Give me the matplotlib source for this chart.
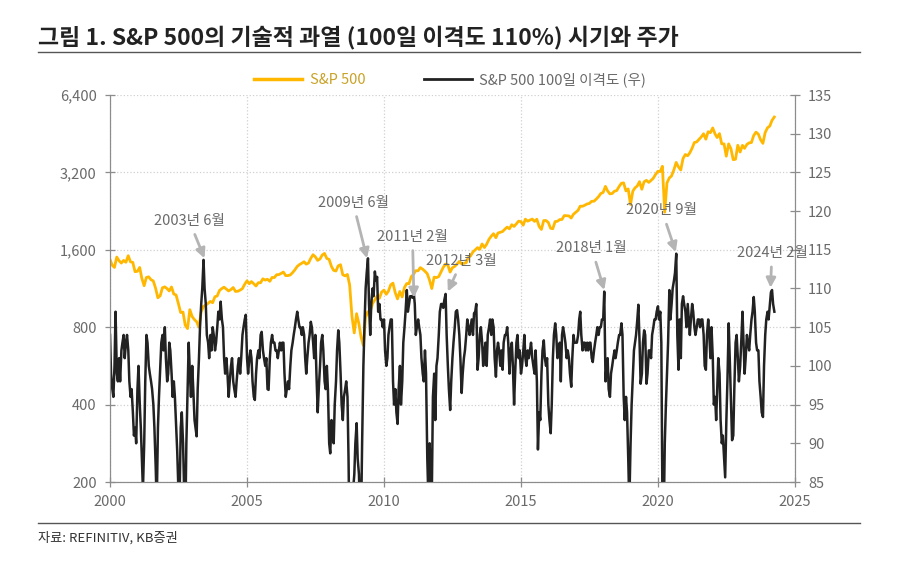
import numpy as np
import pandas as pd
import matplotlib
matplotlib.use('Agg')
import matplotlib.pyplot as plt
from matplotlib.lines import Line2D
from matplotlib.ticker import NullLocator

plt.rcParams['font.family'] = ['Noto Sans CJK KR', 'DejaVu Sans']

# S&P 500 월말 (1999년 12월 ~ 2024년 3월)
spx_2000s = [1469,
    1394, 1366, 1499, 1452, 1421, 1455, 1431, 1518, 1437, 1429, 1315, 1320,
    1366, 1240, 1160, 1249, 1256, 1224, 1211, 1134, 1041, 1060, 1139, 1148,
    1130, 1107, 1147, 1077, 1067, 990, 912, 916, 815, 790, 936, 880,
    856, 841, 800, 917, 964, 975, 990, 1008, 996, 1051, 1058, 1112,
    1131, 1145, 1126, 1107, 1121, 1141, 1102, 1104, 1115, 1130, 1174, 1212,
    1181, 1204, 1181, 1157, 1192, 1191, 1234, 1220, 1229, 1207, 1249, 1248,
    1280, 1281, 1295, 1311, 1270, 1270, 1277, 1304, 1336, 1378, 1401, 1418,
    1438, 1407, 1421, 1482, 1531, 1503, 1455, 1474, 1527, 1549, 1481, 1468,
    1379, 1331, 1323, 1386, 1400, 1280, 1267, 1283, 1166, 880, 760, 903,
    826, 735, 680, 873, 919, 919, 987, 1021, 1057, 1036, 1096, 1115]
spx_2010s = [
    1074, 1104, 1169, 1187, 1089, 1031, 1102, 1049, 1141, 1183, 1181, 1258,
    1286, 1327, 1326, 1364, 1345, 1321, 1292, 1219, 1131, 1253, 1247, 1258,
    1312, 1366, 1408, 1398, 1310, 1362, 1379, 1407, 1441, 1412, 1416, 1426,
    1498, 1515, 1569, 1598, 1631, 1606, 1686, 1633, 1682, 1757, 1806, 1848,
    1783, 1859, 1872, 1884, 1924, 1960, 1931, 2003, 1972, 2018, 2068, 2059,
    1995, 2105, 2068, 2086, 2107, 2063, 2104, 1972, 1920, 2079, 2080, 2044,
    1940, 1932, 2060, 2065, 2097, 2099, 2174, 2171, 2168, 2126, 2199, 2239,
    2279, 2364, 2363, 2384, 2412, 2423, 2470, 2472, 2519, 2575, 2648, 2674,
    2824, 2714, 2641, 2648, 2705, 2718, 2816, 2902, 2914, 2712, 2760, 2400,
    2704, 2784, 2834, 2946, 2752, 2942, 2980, 2926, 2977, 3038, 3141, 3231]
spx_2020s = [
    3226, 3380, 2240, 2912, 3044, 3100, 3271, 3500, 3363, 3270, 3622, 3756,
    3714, 3811, 3973, 4181, 4204, 4298, 4395, 4523, 4308, 4605, 4567, 4766,
    4516, 4374, 4530, 4132, 4132, 3700, 4130, 3955, 3586, 3600, 4080, 3840,
    4077, 3970, 4109, 4169, 4180, 4450, 4589, 4508, 4288, 4150, 4568, 4770,
    4846, 5096, 5254]

# 100일 이격도 (매월 1일, 15일)
disp_2000s = [
    104, 99, 97, 96, 100, 107, 99, 98, 101, 98, 102, 103, 104, 101, 103, 104, 102, 98, 96, 97, 94, 91, 92, 90,
    97, 100, 95, 92, 88, 84, 90, 98, 104, 103, 100, 99, 98, 97, 95, 92, 87, 82, 92, 96, 100, 103, 104, 102,
    105, 101, 98, 99, 103, 102, 99, 96, 98, 96, 92, 89, 84, 82, 92, 94, 90, 84, 80, 90, 97, 103, 99, 96,
    100, 97, 93, 92, 90.9, 97, 101, 105, 108, 110, 113.7, 110, 108, 104, 103, 101, 104, 102, 105, 104, 102, 103, 105, 107,
    106, 108.3, 106, 105, 101, 99, 101, 99, 96, 98, 100, 101, 98, 97, 96, 98, 100, 101, 99, 101, 104, 105, 106, 106.6,
    101, 99, 101, 102, 101, 98, 96, 95.6, 99, 101, 102, 101, 104, 104.4, 102, 101, 100, 101, 97, 96.9, 101, 103, 104, 103,
    103, 102, 102, 101, 102, 103, 102, 103, 103, 99, 96, 97, 98, 97, 100, 102, 103, 104, 105, 106, 107, 106, 105, 105,
    104, 105, 104, 101, 99, 101, 103, 104, 105.7, 105, 103, 101, 104, 99, 94, 97, 100, 103, 104, 102, 98, 97, 100, 97,
    90, 88.7, 93, 92, 90, 95, 98, 102, 104.6, 103, 99, 95, 93, 96, 97, 98, 96, 88, 75, 78, 80, 84, 86, 90,
    92.6, 88, 86, 80, 80, 90, 100, 105, 110, 112, 113.9, 108, 104, 108, 110, 109, 112.2, 111, 111.5, 107, 108, 106, 106, 105]
disp_2010s = [
    106, 102, 100, 101, 104, 105, 106, 106, 98, 95, 97, 94, 92.5, 97, 100, 95, 98, 103, 105, 107, 109.8, 107, 108, 109,
    109, 108.8, 109.5, 108, 104, 105, 106, 105, 104, 101, 99, 98, 102, 99, 88, 83, 90, 86, 84, 96, 99, 93, 100, 101,
    104, 107, 108, 108, 107.5, 108.5, 109.3, 104, 100, 97, 94.3, 98, 101, 103, 105, 107, 107.2, 106, 104, 101, 96.5, 99, 101, 102,
    104, 106, 105, 104, 105, 106, 104, 106.8, 107, 108, 99.5, 101, 104, 105, 103, 100, 102, 103, 100, 104, 105, 106, 104, 106,
    105, 101, 98.6, 102, 103, 102, 100, 102, 99.5, 103, 104, 104, 105, 103, 99, 102, 103, 100, 95, 99, 103, 104, 101, 102,
    99, 100, 102, 104, 101, 100, 102, 101, 102, 103, 101, 100, 99, 102, 98, 89.2, 94, 93, 99, 102, 103.3, 101, 100, 101,
    95, 93, 91.3, 95, 101, 104, 105.5, 104, 101, 102, 103, 98, 104, 105, 104, 103, 101, 102, 101, 99, 97.3, 101, 104, 103,
    103, 103, 104, 106, 107, 104, 102, 103, 103, 102, 103, 102, 103, 103, 101, 100.5, 102, 103, 104, 105, 104, 105, 105, 106,
    106, 109.6, 98, 100, 101, 97, 96, 99, 100, 101, 102, 101, 102, 103, 104, 104, 105.5, 104, 96, 93, 96, 94, 88, 82,
    90, 95, 99, 102, 103, 104, 106, 107.9, 103, 97.7, 99, 103, 104.6, 104, 97.7, 99, 102, 102, 101, 104, 105, 106, 106, 107]
disp_2020s = [
    107.7, 106, 107, 103, 82, 78, 90, 94.7, 99, 103, 109.8, 106, 108, 110, 111, 112, 114.5, 104, 99.5, 106, 101, 108, 109, 108,
    107, 105, 108, 106, 104, 106, 108, 107, 105, 104, 105, 106, 106, 105, 106, 106, 104, 100, 99.5, 104, 106, 104, 101, 105,
    101, 95, 96, 93, 97, 101, 99, 93, 90, 91, 88, 85.6, 93, 98, 105.5, 101, 95, 90.4, 91, 97, 103, 104, 101, 98,
    100, 103, 107, 103, 99, 101, 104, 103, 102, 104, 106, 107, 108.9, 107, 103, 102, 102, 98, 96, 94, 93.4, 100, 104, 106,
    107, 106, 108, 109.5, 109.8, 108, 107]

left_ticks = [200, 400, 800, 1600, 3200, 6400]
right_ticks = [85, 90, 95, 100, 105, 110, 115, 120, 125, 130, 135]
year_ticks = [2000, 2005, 2010, 2015, 2020, 2025]

# 화살표 표시
peak_labels = ['2003년 6월', '2009년 6월', '2011년 2월', '2012년 3월', '2018년 1월', '2020년 9월', '2024년 2월']
peak_dates = ['2003-06-14', '2009-05-19', '2011-02-03', '2012-05-01', '2018-01-15', '2020-08-26', '2024-02-10']
peak_values = [113.9, 113.9, 108.8, 109.6, 109.8, 114.7, 110.1]
label_offsets = [(-11, 27), (-10, 40), (-1, 44), (10, 22), (-9, 30), (-10, 30), (1, 25)]

spx = spx_2000s + spx_2010s + spx_2020s
spx_dates = pd.date_range('1999-12-31', periods=len(spx), freq='ME')
disp = disp_2000s + disp_2010s + disp_2020s
disp_dates = pd.date_range('2000-01-01', periods=len(disp), freq='SMS')

yellow = '#FFB700'
dark = '#222222'
grey = '#8c8c8c'
txt = '#6a6a6a'

fig = plt.figure(figsize=(9, 5.73), dpi=100)
ax = fig.add_axes([110/900, 1-482/573, 685/900, 387/573])

ax.plot(spx_dates, spx, color=yellow, lw=2.0)
ax.set_yscale('log', base=2)
ax.set_ylim(200, 6400)
ax.set_yticks(left_ticks)
ax.set_yticklabels([f'{v:,}' for v in left_ticks])
ax.yaxis.set_minor_locator(NullLocator())
ax.set_xlim(pd.Timestamp('2000-01-01'), pd.Timestamp('2025-01-01'))
ax.set_xticks([pd.Timestamp(f'{y}-01-01') for y in year_ticks])
ax.set_xticklabels([str(y) for y in year_ticks])
ax.grid(True, linestyle=':', color='#d0d0d0', lw=0.9)

ax2 = ax.twinx()
ax2.plot(disp_dates, disp, color=dark, lw=1.8)
ax2.set_ylim(85, 135)
ax2.set_yticks(right_ticks)

for a in (ax, ax2):
    a.spines['top'].set_visible(False)
    for s in ('left', 'right', 'bottom'):
        a.spines[s].set_color(grey)
    a.tick_params(colors=grey, labelcolor=txt, labelsize=10.5, direction='inout', length=7, width=0.9)
ax.tick_params(axis='x', pad=6)
ax.tick_params(axis='y', pad=6)
ax2.tick_params(axis='y', pad=6)

for lab, d, v, off in zip(peak_labels, peak_dates, peak_values, label_offsets):
    ax2.annotate(lab, xy=(pd.Timestamp(d), v), xytext=off, textcoords='offset points',
                 ha='center', va='center', fontsize=10.5, color=txt, annotation_clip=False,
                 arrowprops=dict(arrowstyle='-|>', color='#b4b4b4', lw=2, mutation_scale=14,
                                 shrinkA=3, shrinkB=0))

handles = [Line2D([], [], color=yellow, lw=2.5), Line2D([], [], color=dark, lw=2)]
leg = fig.legend(handles, ['S&P 500', 'S&P 500 100일 이격도 (우)'], loc='center',
                 bbox_to_anchor=(450/900, 1-80/573), ncol=2, frameon=False, fontsize=10.5,
                 handlelength=3.3, columnspacing=4, handletextpad=0.5)
leg.get_texts()[0].set_color('#C9A227')
leg.get_texts()[1].set_color(txt)

fig.text(38/900, 1-37/573, '그림 1. S&P 500의 기술적 과열 (100일 이격도 110%) 시기와 주가',
         fontsize=16.5, weight='bold', color='#222222', va='center')
fig.add_artist(Line2D([38/900, 860/900], [1-52/573, 1-52/573], color='#555555', lw=1))
fig.add_artist(Line2D([38/900, 860/900], [1-523/573, 1-523/573], color='#555555', lw=1))
fig.text(38/900, 1-538/573, '자료: REFINITIV, KB증권', fontsize=9.5, color='#333333', va='center')

fig.savefig('out.png', dpi=100)
